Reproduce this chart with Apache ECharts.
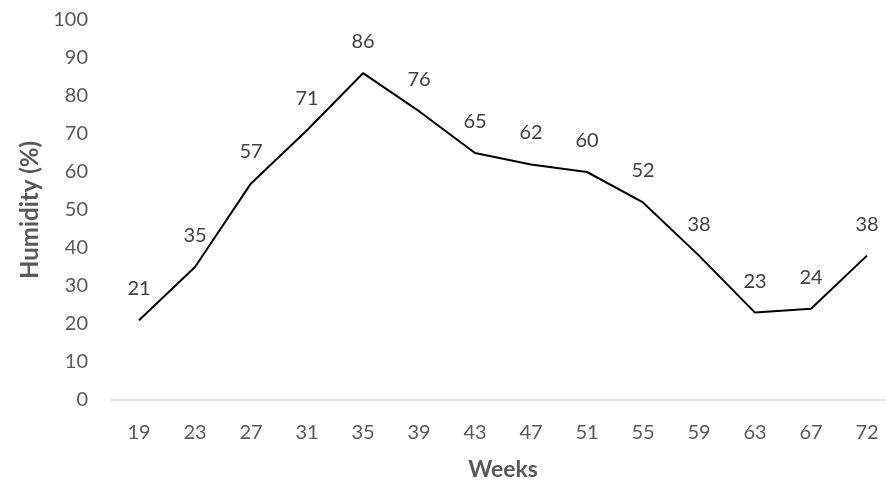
<!DOCTYPE html>
<html>
<head>
<meta charset="utf-8">
<script src="https://cdn.jsdelivr.net/npm/echarts@6/dist/echarts.min.js"></script>
<style>
  html, body { margin: 0; padding: 0; background: #fff; }
  #chart { width: 886px; height: 481px; }
</style>
</head>
<body>
<div id="chart"></div>
<script>
// Weekly humidity readings
const weeks = ['19', '23', '27', '31', '35', '39', '43', '47', '51', '55', '59', '63', '67', '72'];
const humidity = [21, 35, 57, 71, 86, 76, 65, 62, 60, 52, 38, 23, 24, 38];
const yTicks = { min: 0, max: 100, interval: 10 };

const FONT = 'Lato, "Open Sans", sans-serif';
const GREY = '#595959';

const chart = echarts.init(document.getElementById('chart'), null, { renderer: 'canvas' });
chart.setOption({
  animation: false,
  backgroundColor: '#ffffff',
  grid: { left: 111, right: -9, top: 20, bottom: 81, containLabel: false, outerBoundsMode: 'none' },
  xAxis: {
    type: 'category',
    data: weeks,
    boundaryGap: true,
    name: 'Weeks',
    nameLocation: 'middle',
    nameGap: 58,
    nameTextStyle: { fontFamily: FONT, fontSize: 23, fontWeight: 'bold', color: GREY },
    axisLine: { show: true, lineStyle: { color: '#d9d9d9', width: 1.5 } },
    axisTick: { show: false },
    axisLabel: { fontFamily: FONT, fontSize: 20, color: GREY, margin: 23 },
    splitLine: { show: false }
  },
  yAxis: {
    type: 'value',
    min: yTicks.min,
    max: yTicks.max,
    interval: yTicks.interval,
    name: 'Humidity (%)',
    nameLocation: 'middle',
    nameRotate: 90,
    nameGap: 68,
    nameTextStyle: { fontFamily: FONT, fontSize: 24, fontWeight: 'bold', color: GREY },
    axisLine: { show: false },
    axisTick: { show: false },
    axisLabel: { fontFamily: FONT, fontSize: 20, color: GREY, margin: 23 },
    splitLine: { show: false }
  },
  series: [{
    type: 'line',
    data: humidity,
    showSymbol: true,
    symbol: 'circle',
    symbolSize: 1,
    itemStyle: { color: 'rgba(0,0,0,0)', borderWidth: 0 },
    lineStyle: { color: '#000000', width: 2 },
    label: {
      show: true,
      position: 'top',
      distance: 21,
      fontFamily: FONT,
      fontSize: 20,
      color: '#404040'
    }
  }]
});
</script>
</body>
</html>
